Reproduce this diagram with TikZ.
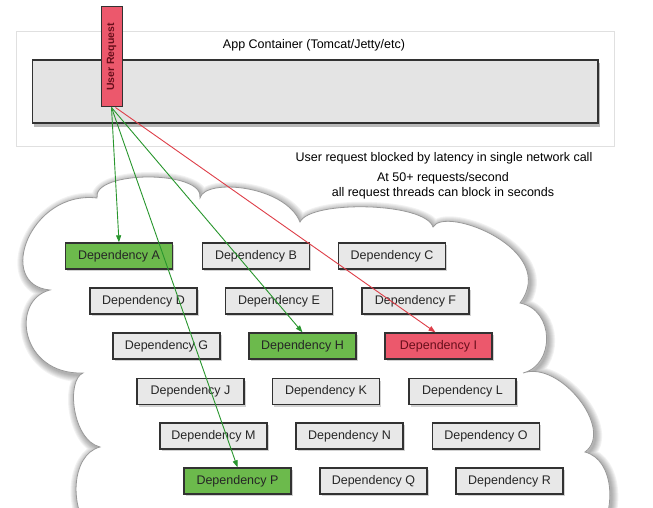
\documentclass[tikz,border=0pt]{standalone}
\usepackage{fontspec}
\setmainfont{Liberation Sans}
\usetikzlibrary{arrows.meta,shadows}

\definecolor{depgray}{RGB}{232,232,232}
\definecolor{depgreen}{RGB}{108,186,76}
\definecolor{depred}{RGB}{236,88,108}
\definecolor{deptextred}{RGB}{105,15,28}
\definecolor{depline}{RGB}{50,50,50}
\definecolor{callgreen}{RGB}{40,150,45}
\definecolor{callred}{RGB}{222,62,72}
\definecolor{barfill}{RGB}{228,228,228}

\newcommand{\deptext}{\fontsize{12.5}{15}\selectfont}
\newcommand{\cloudpath}{(50,290) .. controls (-5,285) and (30,190) .. (97,198)
  .. controls (92,170) and (205,170) .. (200,198)
  .. controls (205,178) and (285,185) .. (300,222)
  .. controls (310,200) and (425,202) .. (433,227)
  .. controls (445,205) and (560,250) .. (520,303)
  .. controls (555,310) and (555,365) .. (523,373)
  .. controls (560,360) and (615,430) .. (585,452)
  .. controls (615,460) and (615,510) .. (600,530)
  -- (90,530)
  .. controls (70,510) and (70,455) .. (100,447)
  .. controls (72,440) and (66,380) .. (83,373)
  .. controls (20,375) and (10,300) .. (50,290) -- cycle}

\tikzset{
  dep/.style={draw=depline, line width=1.3pt, minimum width=107pt,
    minimum height=26pt, inner sep=0pt, font=\deptext,
    drop shadow={shadow xshift=1.5pt, shadow yshift=-2pt, opacity=0.35}},
  call/.style={draw=callgreen, line width=0.9pt,
    -{Triangle[length=7pt,width=5pt]}},
}

\begin{document}
\begin{tikzpicture}[x=1pt, y=-1pt]
  \useasboundingbox (0,0) rectangle (653,508);
  \clip (0,0) rectangle (653,508);
  % App container with its thread bar.
  \draw[draw=black!12, line width=1pt, fill=white] (16,32) rectangle (614,147);
  \node[font=\deptext] (title) at (314,45) {App Container (Tomcat/Jetty/etc)};
  \fill[black!50, opacity=0.55] (34,63) rectangle (600,127);
  \draw[depline, line width=1.3pt, fill=barfill] (32.5,60) rectangle (598,123);
  \node[draw=depline, line width=1pt, fill=depred, rotate=90, minimum width=100pt,
    minimum height=21pt, inner sep=0pt, text=deptextred,
    font=\fontsize{10.5}{12}\selectfont\bfseries] (ur) at (111.5,57) {User Request};
  % Notes.
  \node[font=\deptext] (blocked) at (444,158)
    {User request blocked by latency in single network call};
  \node[font=\deptext, align=center] (rate) at (443,185.5)
    {At 50+ requests/second\\all request threads can block in seconds};
  % Cloud of dependencies, soft shadow first.
  \foreach \w in {2,4,...,14}
    \draw[black, opacity=0.05, line width=\w pt, shift={(1.5,2)}] \cloudpath;
  \fill[white] \cloudpath;
  \draw[black!40, line width=0.8pt] \cloudpath;
  \foreach \name/\x/\y/\fc/\tc in {
      A/119/256/depgreen/black!85, B/256/256/depgray/black!85, C/392/256/depgray/black!85,
      D/143.5/301/depgray/black!85, E/279/301/depgray/black!85, F/415.5/301/depgray/black!85,
      G/166.5/346/depgray/black!85, H/302.5/346/depgreen/black!85, I/438.5/346/depred/deptextred,
      J/190.5/391.5/depgray/black!85, K/326/391.5/depgray/black!85, L/462.5/391.5/depgray/black!85,
      M/213.5/436/depgray/black!85, N/349.5/436/depgray/black!85, O/486/436/depgray/black!85,
      P/237.5/481/depgreen/black!85, Q/373.5/481/depgray/black!85, R/509.5/481/depgray/black!85}
    \node[dep, fill=\fc, text=\tc] (dep\name) at (\x,\y) {Dependency \name};
  % Calls out of the request thread.
  \draw[call] (ur.west) -- (depA.north);
  \draw[call] (ur.west) -- (depP.north);
  \draw[call] (ur.west) -- (depH.north);
  \draw[call, draw=callred] ([xshift=4pt]ur.west) -- ([xshift=-3pt]depI.north);
\end{tikzpicture}
\end{document}
